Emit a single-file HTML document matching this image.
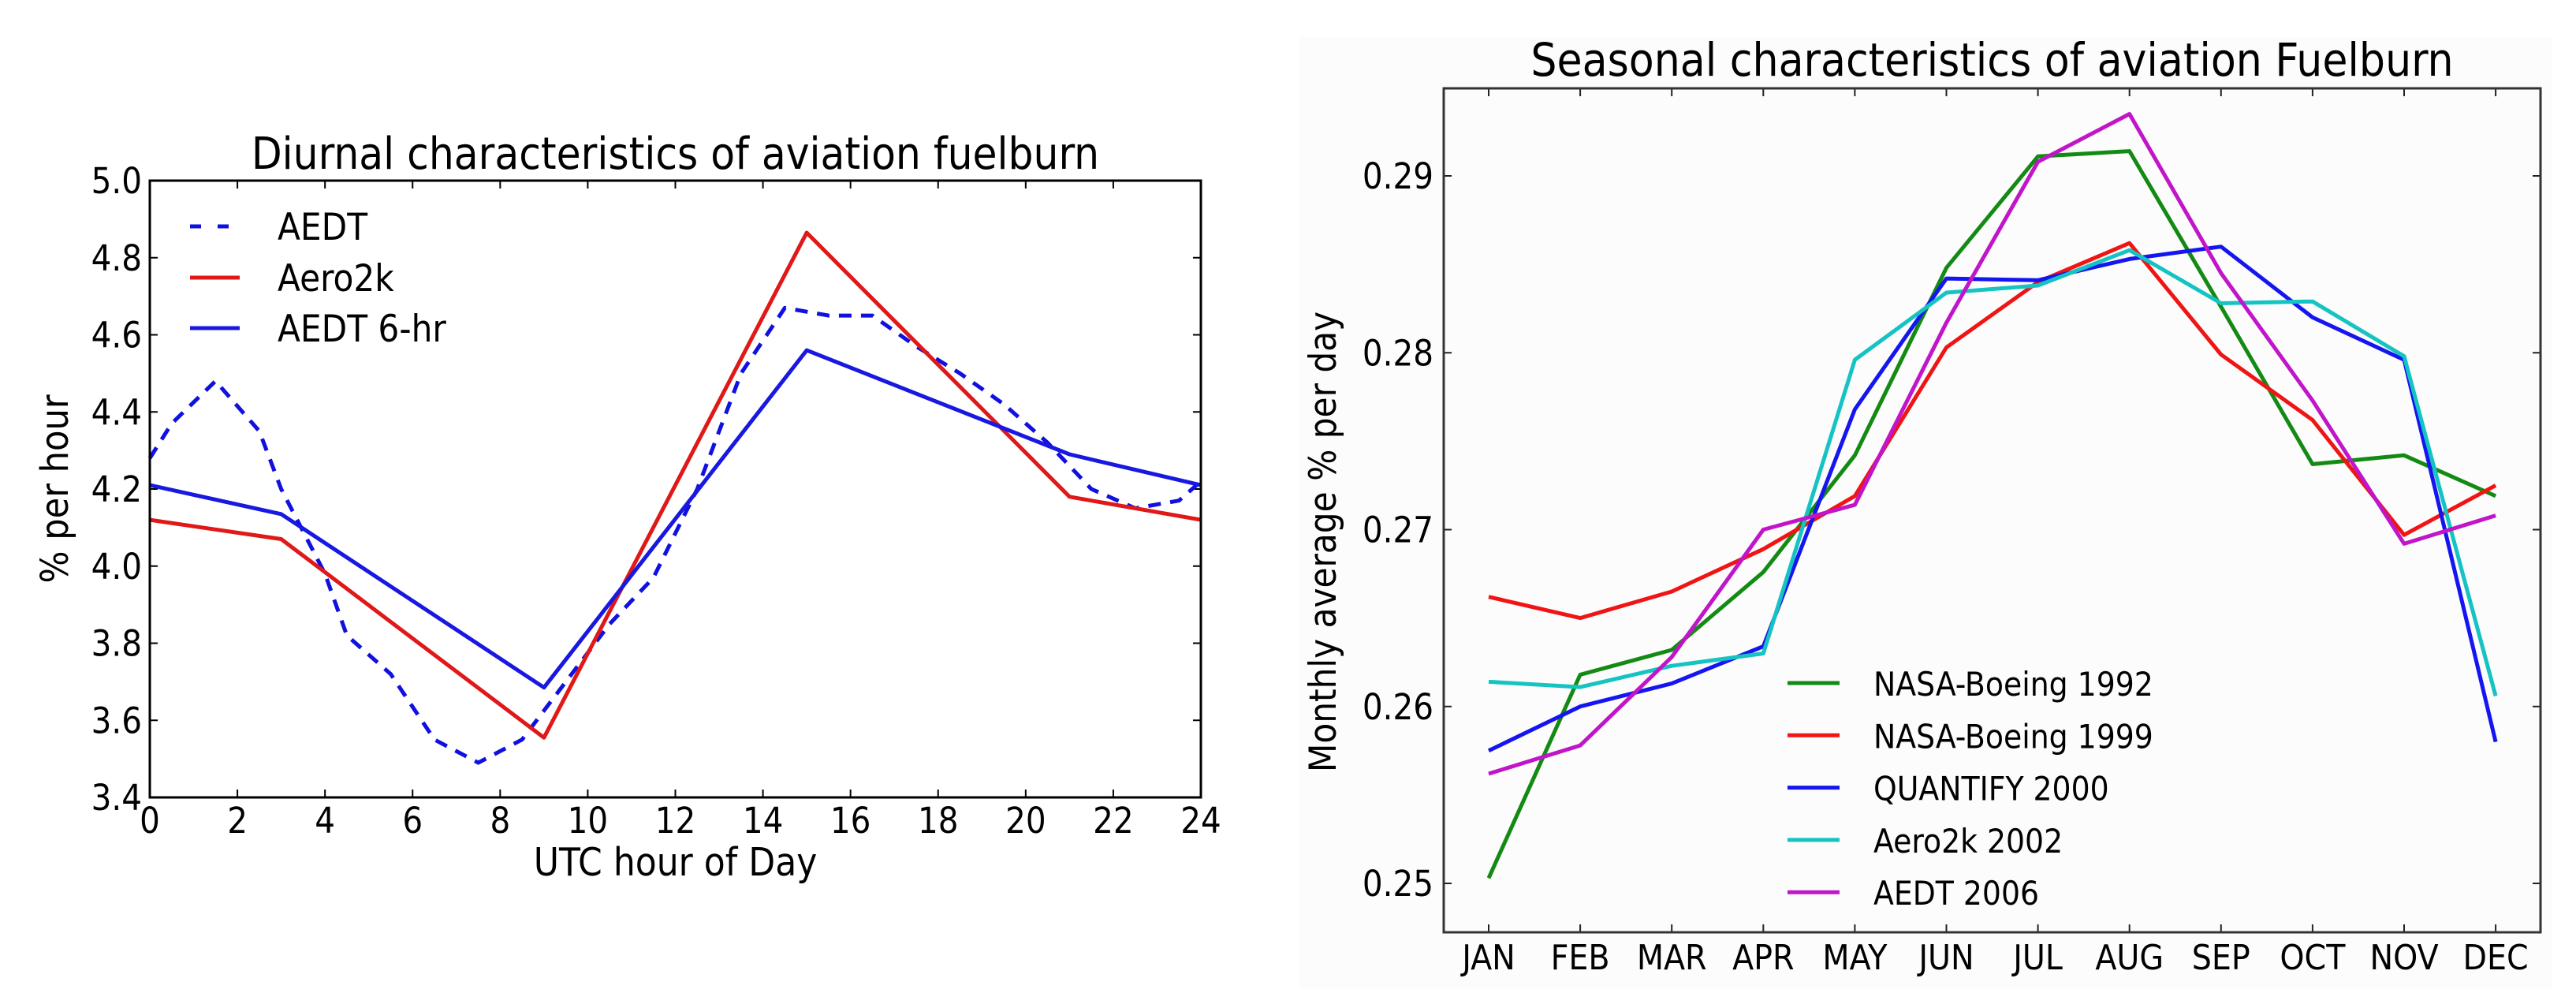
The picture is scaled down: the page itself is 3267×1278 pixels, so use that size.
<!DOCTYPE html>
<html><head><meta charset="utf-8"><style>
html,body{margin:0;padding:0;background:#fff;}
svg{display:block;font-family:"DejaVu Sans Condensed","DejaVu Sans","Liberation Sans",sans-serif;}
</style></head><body>
<svg id="fig" width="3267" height="1278" viewBox="0 0 3267 1278" xmlns="http://www.w3.org/2000/svg">
<rect x="1647" y="47" width="1590" height="1206" fill="#fcfcfc"/>
<g id="left"></g>
<g id="right"></g>
</svg>
<script>
// ---- Diurnal chart data ----
const aedtHours = [0,0.5,1.5,2.5,3,4,4.5,5.5,6.5,7.5,8.5,9.5,10.5,11.5,12.5,13.5,14.5,15.5,16.5,17.5,18.5,19.5,20.5,21.5,22.5,23.5,24];
const aedtValues = [4.28,4.37,4.48,4.35,4.2,3.98,3.82,3.72,3.55,3.49,3.55,3.7,3.85,3.97,4.2,4.5,4.67,4.65,4.65,4.57,4.5,4.42,4.32,4.2,4.15,4.17,4.22];
const sixHours = [0,3,9,15,21,24];
const aero2kValues = [4.12,4.07,3.555,4.865,4.18,4.12];
const aedt6Values = [4.21,4.135,3.685,4.56,4.29,4.21];
const hourTicks = [0,2,4,6,8,10,12,14,16,18,20,22,24];
const pctTicks = ["3.4","3.6","3.8","4.0","4.2","4.4","4.6","4.8","5.0"];
// ---- Seasonal chart data ----
const months = ["JAN","FEB","MAR","APR","MAY","JUN","JUL","AUG","SEP","OCT","NOV","DEC"];
const nasa1992 = [.2503,.2618,.2632,.2676,.2742,.2848,.2911,.2914,.2826,.2737,.2742,.2719];
const nasa1999 = [.2662,.2650,.2665,.2689,.2719,.2803,.2840,.2862,.2799,.2762,.2697,.2725];
const quantify2000 = [.2575,.2600,.2613,.2634,.2768,.2842,.2841,.2853,.2860,.2820,.2796,.2580];
const aero2k2002 = [.2614,.2611,.2623,.2630,.2796,.2834,.2838,.2858,.2828,.2829,.2798,.2606];
const aedt2006 = [.2562,.2578,.2628,.2700,.2714,.2817,.2908,.2935,.2845,.2773,.2692,.2708];
const seasonTicks = ["0.25","0.26","0.27","0.28","0.29"];

const NS="http://www.w3.org/2000/svg";
function mk(parent,tag,attrs,text){const e=document.createElementNS(NS,tag);for(const k in attrs)e.setAttribute(k,attrs[k]);if(text!==undefined)e.textContent=text;parent.appendChild(e);return e;}

// ===== Left chart =====
const L=document.getElementById('left');
const lx0=190,lx1=1523,ly0=229,ly1=1011;
const lxs=h=>lx0+(h/24)*(lx1-lx0);
const lys=v=>ly1-(v-3.4)/1.6*(ly1-ly0);
let t=mk(L,'text',{x:(lx0+lx1)/2,y:214,'font-size':56,'text-anchor':'middle',fill:'#000'},'Diurnal characteristics of aviation fuelburn');


hourTicks.forEach(h=>{
  const x=lxs(h);
  let a=mk(L,'line',{x1:x,x2:x,y1:ly1,y2:ly1-10,stroke:'#000','stroke-width':2});
  
  
  let b=mk(L,'line',{x1:x,x2:x,y1:ly0,y2:ly0+10,stroke:'#000','stroke-width':2});
  
  
  let l=mk(L,'text',{x:x,y:1056,'font-size':45,'text-anchor':'middle',fill:'#000'},String(h));
  
  
});
pctTicks.forEach(s=>{
  const y=lys(parseFloat(s));
  let a=mk(L,'line',{x1:lx0,x2:lx0+10,y1:y,y2:y,stroke:'#000','stroke-width':2});
  
  
  let b=mk(L,'line',{x1:lx1,x2:lx1-10,y1:y,y2:y,stroke:'#000','stroke-width':2});
  
  
  let l=mk(L,'text',{x:180,y:y+16,'font-size':45,'text-anchor':'end',fill:'#000'},s);
  
  
});
t=mk(L,'text',{x:(lx0+lx1)/2,y:1110,'font-size':49,'text-anchor':'middle',fill:'#000'},'UTC hour of Day');


t=mk(L,'text',{x:0,y:0,'font-size':48,'text-anchor':'middle',fill:'#000',transform:`translate(86,${(ly0+ly1)/2}) rotate(-90)`},'% per hour');


const lser=[
 {name:'aedt-line',xs:aedtHours,ys:aedtValues,c:'#1010e0',dash:'16,12'},
 {name:'aero2k-line',xs:sixHours,ys:aero2kValues,c:'#e01818',dash:null},
 {name:'aedt-6hr-line',xs:sixHours,ys:aedt6Values,c:'#1818e0',dash:null}];
lser.forEach(s=>{
  const pts=s.xs.map((h,i)=>lxs(h).toFixed(1)+','+lys(s.ys[i]).toFixed(1)).join(' ');
  const p=mk(L,'polyline',{points:pts,fill:'none',stroke:s.c,'stroke-width':5,'stroke-linejoin':'round'});
  if(s.dash)p.setAttribute('stroke-dasharray',s.dash);
  
  
});
let r=mk(L,'rect',{x:lx0,y:ly0,width:lx1-lx0,height:ly1-ly0,fill:'none',stroke:'#000','stroke-width':3});


[['AEDT','#1010e0','16,12',287],['Aero2k','#e01818',null,352],['AEDT 6-hr','#1818e0',null,416]].forEach(e=>{
  const g=mk(L,'g',{});
  
  
  const ln=mk(g,'line',{x1:241,x2:304,y1:e[3],y2:e[3],stroke:e[1],'stroke-width':5});
  if(e[2])ln.setAttribute('stroke-dasharray','14,21');
  mk(g,'text',{x:352,y:e[3]+17,'font-size':47,fill:'#000'},e[0]);
});

// ===== Right chart =====
const R=document.getElementById('right');
const rx0=1831,rx1=3222,ry0=112,ry1=1182;
const rxs=i=>1888+i*116.1;
const rys=v=>223+(0.29-v)/0.01*224.25;
t=mk(R,'text',{x:(rx0+rx1)/2,y:96,'font-size':58,'text-anchor':'middle',fill:'#000'},'Seasonal characteristics of aviation Fuelburn');


months.forEach((m,i)=>{
  const x=rxs(i);
  let a=mk(R,'line',{x1:x,x2:x,y1:ry1,y2:ry1-10,stroke:'#222','stroke-width':2});
  
  
  let b=mk(R,'line',{x1:x,x2:x,y1:ry0,y2:ry0+10,stroke:'#222','stroke-width':2});
  
  
  let l=mk(R,'text',{x:x,y:1229,'font-size':44,'text-anchor':'middle',fill:'#000'},m);
  
  
});
seasonTicks.forEach(s=>{
  const y=rys(parseFloat(s));
  let a=mk(R,'line',{x1:rx0,x2:rx0+10,y1:y,y2:y,stroke:'#222','stroke-width':2});
  
  
  let b=mk(R,'line',{x1:rx1,x2:rx1-10,y1:y,y2:y,stroke:'#222','stroke-width':2});
  
  
  let l=mk(R,'text',{x:1818,y:y+16,'font-size':45,'text-anchor':'end',fill:'#000'},s);
  
  
});
t=mk(R,'text',{x:0,y:0,'font-size':47,'text-anchor':'middle',fill:'#000',transform:`translate(1694,${(ry0+ry1)/2+40}) rotate(-90)`},'Monthly average % per day');


const rser=[
 ['nasa-boeing-1992-line',nasa1992,'#138a13','NASA-Boeing 1992'],
 ['nasa-boeing-1999-line',nasa1999,'#f01515','NASA-Boeing 1999'],
 ['quantify-2000-line',quantify2000,'#1515f0','QUANTIFY 2000'],
 ['aero2k-2002-line',aero2k2002,'#15c3c3','Aero2k 2002'],
 ['aedt-2006-line',aedt2006,'#c015c8','AEDT 2006']];
rser.forEach(s=>{
  const pts=s[1].map((v,i)=>rxs(i).toFixed(1)+','+rys(v).toFixed(1)).join(' ');
  const p=mk(R,'polyline',{points:pts,fill:'none',stroke:s[2],'stroke-width':5,'stroke-linejoin':'round'});
  
  
});
r=mk(R,'rect',{x:rx0,y:ry0,width:rx1-rx0,height:ry1-ry0,fill:'none',stroke:'#333','stroke-width':3});


rser.forEach((s,i)=>{
  const y=866+i*66.3;
  const g=mk(R,'g',{});
  
  
  mk(g,'line',{x1:2267,x2:2333,y1:y,y2:y,stroke:s[2],'stroke-width':5});
  mk(g,'text',{x:2376,y:y+16,'font-size':42,fill:'#000'},s[3]);
});
</script>
</body></html>
